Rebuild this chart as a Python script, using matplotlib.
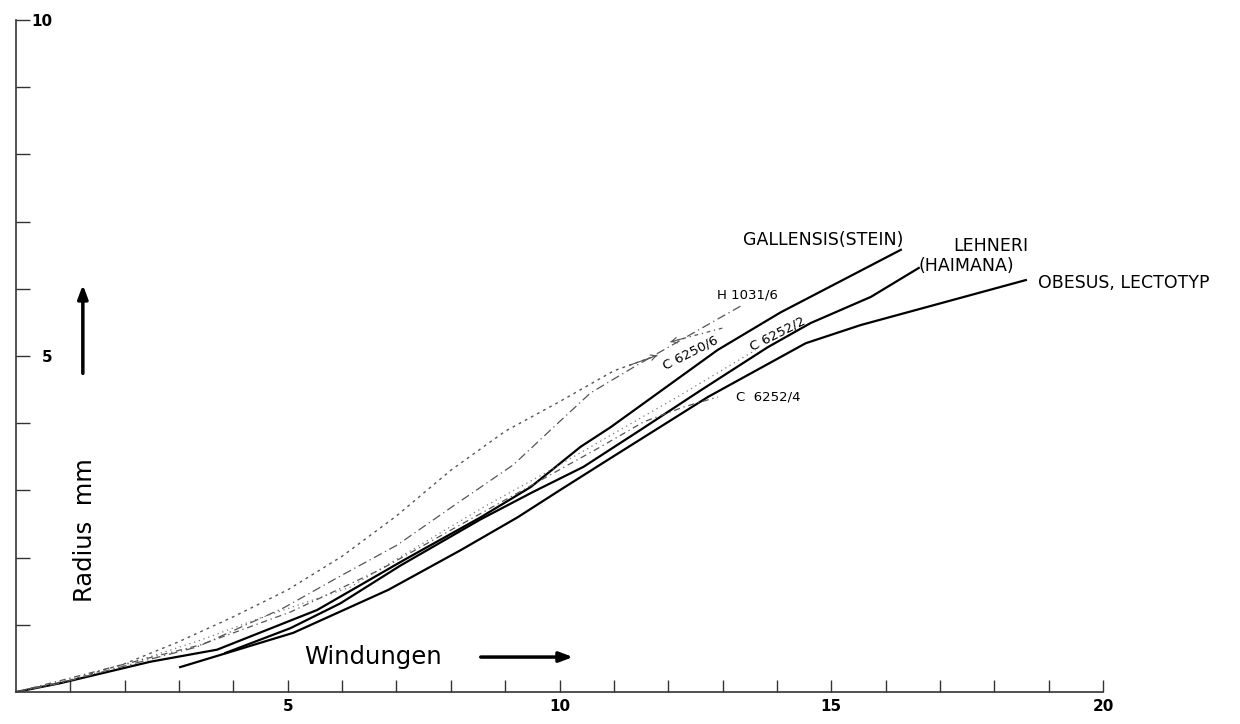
import matplotlib.pyplot as plt
import numpy as np

# Windungen (x) und Radius in mm (y)
gallensis_x = [0, 0.81, 2.47, 3.70, 5.54, 7.13, 8.55, 9.47, 10.39, 10.94, 12.91, 14.07, 16.28]
gallensis_y = [0, 0.13, 0.45, 0.63, 1.22, 1.96, 2.60, 3.05, 3.65, 3.94, 5.09, 5.65, 6.58]

lehneri_x = [3.85, 5.05, 5.97, 7.07, 8.55, 9.52, 10.44, 11.49, 12.60, 13.83, 14.62, 15.73, 16.61]
lehneri_y = [0.58, 0.95, 1.32, 1.88, 2.57, 2.98, 3.35, 3.90, 4.49, 5.13, 5.49, 5.88, 6.31]

obesus_x = [3.02, 5.10, 6.85, 8.18, 9.23, 10.02, 10.94, 12.73, 14.53, 15.54, 18.58]
obesus_y = [0.37, 0.88, 1.52, 2.11, 2.60, 3.01, 3.48, 4.39, 5.19, 5.46, 6.13]

h1031_x = [0, 0.81, 1.73, 3.33, 4.92, 5.91, 7.02, 8.12, 9.15, 9.89, 10.57, 11.44, 12.65, 13.37]
h1031_y = [0, 0.13, 0.33, 0.67, 1.25, 1.70, 2.19, 2.81, 3.38, 3.94, 4.45, 4.87, 5.43, 5.76]

c6250_x = [0, 1, 2, 3, 4, 5, 6, 7, 8, 9, 10, 11, 11.8]
c6250_y = [0, 0.18, 0.42, 0.75, 1.12, 1.52, 2.02, 2.62, 3.30, 3.88, 4.32, 4.78, 5.01]
c6250b_x = [12.04, 13.02]
c6250b_y = [5.21, 5.42]

c6252_2_x = [0, 1.73, 3.39, 4.49, 6.15, 7.44, 8.60, 9.83, 10.94, 12.23, 13.61]
c6252_2_y = [0, 0.33, 0.77, 1.10, 1.56, 2.19, 2.75, 3.30, 3.82, 4.42, 5.09]

c6252_4_x = [0, 1.73, 3.39, 5.05, 6.70, 8.18, 9.65, 10.76, 11.55, 12.28, 12.91]
c6252_4_y = [0, 0.36, 0.70, 1.19, 1.82, 2.49, 3.15, 3.65, 4.02, 4.24, 4.39]

x_ticks = np.arange(1, 21)
x_ticklabels = [str(t) if t % 5 == 0 else '' for t in x_ticks]
y_ticks = np.arange(1, 11)
y_ticklabels = [str(t) if t % 5 == 0 else '' for t in y_ticks]

fig = plt.figure(figsize=(12.4, 7.24), dpi=100)
ax = fig.add_axes([16/1240, 32/724, 1087/1240, 672/724])

ax.plot(gallensis_x, gallensis_y, 'k-', lw=1.6)
ax.plot(lehneri_x, lehneri_y, 'k-', lw=1.6)
ax.plot(obesus_x, obesus_y, 'k-', lw=1.6)
ax.plot(h1031_x, h1031_y, color='#555555', lw=0.9, linestyle=(0, (7, 3, 1, 3)))
ax.plot(c6250_x, c6250_y, color='#555555', lw=1.0, linestyle=(0, (2, 3)))
ax.plot(c6250b_x, c6250b_y, color='#555555', lw=0.9, linestyle=(0, (3, 3, 1, 3)))
ax.plot(c6252_2_x, c6252_2_y, color='#777777', lw=0.9, linestyle=(0, (1, 3)))
ax.plot(c6252_4_x, c6252_4_y, color='#555555', lw=0.9, linestyle=(0, (5, 3, 1, 3)))

# kleine Pfeilspitzen an der Beschriftung C 6250/6
ax.annotate('', xy=(c6250_x[-1], c6250_y[-1]), xytext=(c6250_x[-2], c6250_y[-2]),
            arrowprops=dict(arrowstyle='->', color='#555555', lw=0.8, shrinkA=12, shrinkB=0))
ax.annotate('', xy=(c6250b_x[0], c6250b_y[0]), xytext=(c6250b_x[1], c6250b_y[1]),
            arrowprops=dict(arrowstyle='->', color='#555555', lw=0.8, shrinkA=30, shrinkB=0))

lab = dict(fontsize=12.5, color='black')
ax.text(13.37, 6.73, 'GALLENSIS(STEIN)', ha='left', va='center', **lab)
ax.text(17.24, 6.64, 'LEHNERI', ha='left', va='center', **lab)
ax.text(16.61, 6.34, '(HAIMANA)', ha='left', va='center', **lab)
ax.text(18.80, 6.09, 'OBESUS, LECTOTYP', ha='left', va='center', **lab)

small = dict(fontsize=9.5, color='black')
ax.text(13.46, 5.91, 'H 1031/6', ha='center', va='center', **small)
ax.text(12.41, 5.04, 'C 6250/6', ha='center', va='center', rotation=27, **small)
ax.text(14.01, 5.33, 'C 6252/2', ha='center', va='center', rotation=27, **small)
ax.text(13.24, 4.39, 'C  6252/4', ha='left', va='center', **small)

# Achsenbeschriftungen mit Pfeilen
ax.text(5.3, 0.52, 'Windungen', fontsize=17.5, ha='left', va='center')
ax.annotate('', xy=(10.3, 0.52), xytext=(8.5, 0.52),
            arrowprops=dict(arrowstyle='-|>,head_length=0.8,head_width=0.3', color='black', lw=2.5))
ax.text(1.27, 2.41, 'Radius  mm', fontsize=17.5, rotation=90, ha='center', va='center')
ax.annotate('', xy=(1.23, 6.1), xytext=(1.23, 4.7),
            arrowprops=dict(arrowstyle='-|>,head_length=0.8,head_width=0.3', color='black', lw=2.5))

ax.set_xlim(0, 20)
ax.set_ylim(0, 10)
ax.set_xticks(x_ticks)
ax.set_xticklabels(x_ticklabels, fontweight='bold', fontsize=11)
ax.set_yticks(y_ticks)
ax.set_yticklabels(y_ticklabels, fontweight='bold', fontsize=11)
ax.tick_params(axis='x', direction='in', length=9, width=1.0, pad=5, color='#333333')
ax.tick_params(axis='y', direction='in', length=10, width=1.0, pad=-26, color='#333333')
for s in ['top', 'right']:
    ax.spines[s].set_visible(False)
for s in ['left', 'bottom']:
    ax.spines[s].set_color('#333333')
    ax.spines[s].set_linewidth(1.2)

fig.savefig('out.png', dpi=100)
